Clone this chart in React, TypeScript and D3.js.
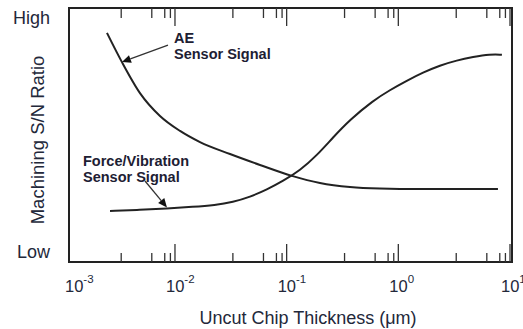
import React from "react";
import * as d3 from "d3";

// Uncut chip thickness (µm) and normalised S/N ratio (0 = Low, 1 = High)
const aeThickness = [0.00246, 0.00335, 0.00486, 0.00734, 0.0111, 0.01675, 0.0311, 0.0577, 0.1115, 0.1987, 0.3687, 0.684, 1.561, 3.56, 7.8];
const aeSignal = [0.902, 0.787, 0.665, 0.575, 0.516, 0.472, 0.425, 0.382, 0.339, 0.311, 0.295, 0.289, 0.287, 0.287, 0.287];

const forceThickness = [0.00262, 0.00486, 0.00848, 0.01449, 0.0228, 0.0331, 0.0469, 0.0666, 0.0927, 0.1315, 0.1867, 0.2597, 0.3687, 0.5924, 0.841, 1.194, 1.661, 2.357, 3.347, 4.655, 6.637, 8.464];
const forceSignal = [0.201, 0.205, 0.211, 0.217, 0.224, 0.236, 0.256, 0.285, 0.319, 0.36, 0.42, 0.49, 0.56, 0.635, 0.677, 0.714, 0.746, 0.774, 0.794, 0.807, 0.818, 0.816];

const majorTicks = [1e-2, 1e-1, 1e0, 1e1];
const minorMultipliers = [0.33, 0.62, 0.81, 0.91];
const tickLabels = [
  { v: 1e-3, exp: "-3" },
  { v: 1e-2, exp: "-2" },
  { v: 1e-1, exp: "-1" },
  { v: 1e0, exp: "0" },
  { v: 1e1, exp: "1" },
];
const yLabels = [
  { v: 1, text: "High" },
  { v: 0, text: "Low" },
];

// annotation arrows: tail & tip in data units
const aeArrow = { tail: [0.00866, 0.854], tip: [0.00335, 0.787], lines: ["AE", "Sensor Signal"] };
const forceArrow = { tail: [0.00539, 0.319], tip: [0.00848, 0.2146], lines: ["Force/Vibration", "Sensor Signal"] };

const FONT = "'Liberation Sans', Arial, Helvetica, sans-serif";
const TXT = "#23283a";

export default function App() {
  const W = 523, H = 329;
  const frame = { left: 69, right: 512, top: 8, bottom: 262 };
  const x = d3.scaleLog().domain([1e-3, 1e1]).range([63.3, 510]);
  const y = d3.scaleLinear().domain([0, 1]).range([frame.bottom, frame.top]);

  const aeLine = d3
    .line<[number, number]>()
    .x((d) => x(d[0]))
    .y((d) => y(d[1]))
    .curve(d3.curveMonotoneX);
  const forceLine = d3
    .line<[number, number]>()
    .x((d) => x(d[0]))
    .y((d) => y(d[1]))
    .curve(d3.curveBasis);

  const aeData = aeThickness.map((t, i) => [t, aeSignal[i]] as [number, number]);
  const forceData = forceThickness.map((t, i) => [t, forceSignal[i]] as [number, number]);

  const minorTicks: number[] = [];
  majorTicks.forEach((m) => minorMultipliers.forEach((k) => minorTicks.push(m * k)));

  const arrowHead = (a: any) => {
    const tx = x(a.tip[0]), ty = y(a.tip[1]);
    const sx = x(a.tail[0]), sy = y(a.tail[1]);
    const ang = Math.atan2(ty - sy, tx - sx);
    const L = 9, Wd = 4;
    const bx = tx - L * Math.cos(ang), by = ty - L * Math.sin(ang);
    const p1 = [bx + Wd * Math.sin(ang), by - Wd * Math.cos(ang)];
    const p2 = [bx - Wd * Math.sin(ang), by + Wd * Math.cos(ang)];
    return (
      <g>
        <line x1={sx} y1={sy} x2={bx} y2={by} stroke="#333" strokeWidth={1.3} />
        <polygon points={`${tx},${ty} ${p1[0]},${p1[1]} ${p2[0]},${p2[1]}`} fill="#111" />
      </g>
    );
  };

  return (
    <svg width={W} height={H} style={{ position: "absolute", left: 0, top: 0, background: "#fff" }} fontFamily={FONT}>
      <rect x={0} y={0} width={W} height={H} fill="#fff" />
      {/* frame */}
      <rect x={frame.left} y={frame.top} width={frame.right - frame.left} height={frame.bottom - frame.top} fill="none" stroke="#222" strokeWidth={2} />
      {/* ticks */}
      {majorTicks.map((t) => (
        <g key={"M" + t}>
          <line x1={x(t)} x2={x(t)} y1={frame.bottom} y2={frame.bottom - 18} stroke="#333" strokeWidth={1.3} />
          <line x1={x(t)} x2={x(t)} y1={frame.top} y2={frame.top + 18} stroke="#333" strokeWidth={1.3} />
        </g>
      ))}
      {minorTicks.map((t) => (
        <g key={"m" + t}>
          <line x1={x(t)} x2={x(t)} y1={frame.bottom} y2={frame.bottom - 9} stroke="#333" strokeWidth={1.3} />
          <line x1={x(t)} x2={x(t)} y1={frame.top} y2={frame.top + 10} stroke="#333" strokeWidth={1.3} />
        </g>
      ))}
      {/* tick labels */}
      {tickLabels.map((l) => (
        <text key={l.exp} x={Math.max(x(l.v), 74) - 9} y={292} fontSize={16.5} fill={TXT}>
          10
          <tspan dy={-9} fontSize={11.5}>{l.exp}</tspan>
        </text>
      ))}
      {yLabels.map((l) => (
        <text key={l.text} x={50} y={y(l.v) + (l.v === 1 ? 16 : -4)} textAnchor="end" fontSize={18} fill={TXT}>
          {l.text}
        </text>
      ))}
      {/* axis titles */}
      <text x={308} y={324} textAnchor="middle" fontSize={18} fill={TXT}>
        Uncut Chip Thickness (μm)
      </text>
      <text transform="translate(44,140) rotate(-90)" textAnchor="middle" fontSize={18.5} fill={TXT}>
        Machining S/N Ratio
      </text>
      {/* curves */}
      <path d={aeLine(aeData) || ""} fill="none" stroke="#222" strokeWidth={2} />
      <path d={forceLine(forceData) || ""} fill="none" stroke="#222" strokeWidth={2} />
      {/* annotations */}
      {arrowHead(aeArrow)}
      {arrowHead(forceArrow)}
      <text x={x(aeArrow.tail[0]) + 6} y={y(aeArrow.tail[1]) - 2} fontSize={14.5} fontWeight="bold" fill="#1d2033">
        <tspan>{aeArrow.lines[0]}</tspan>
        <tspan x={x(aeArrow.tail[0]) + 6} dy={16}>{aeArrow.lines[1]}</tspan>
      </text>
      <text x={x(forceArrow.tail[0]) - 62} y={y(forceArrow.tail[1]) - 15} fontSize={14.5} fontWeight="bold" fill="#1d2033">
        <tspan>{forceArrow.lines[0]}</tspan>
        <tspan x={x(forceArrow.tail[0]) - 62} dy={16}>{forceArrow.lines[1]}</tspan>
      </text>
    </svg>
  );
}
